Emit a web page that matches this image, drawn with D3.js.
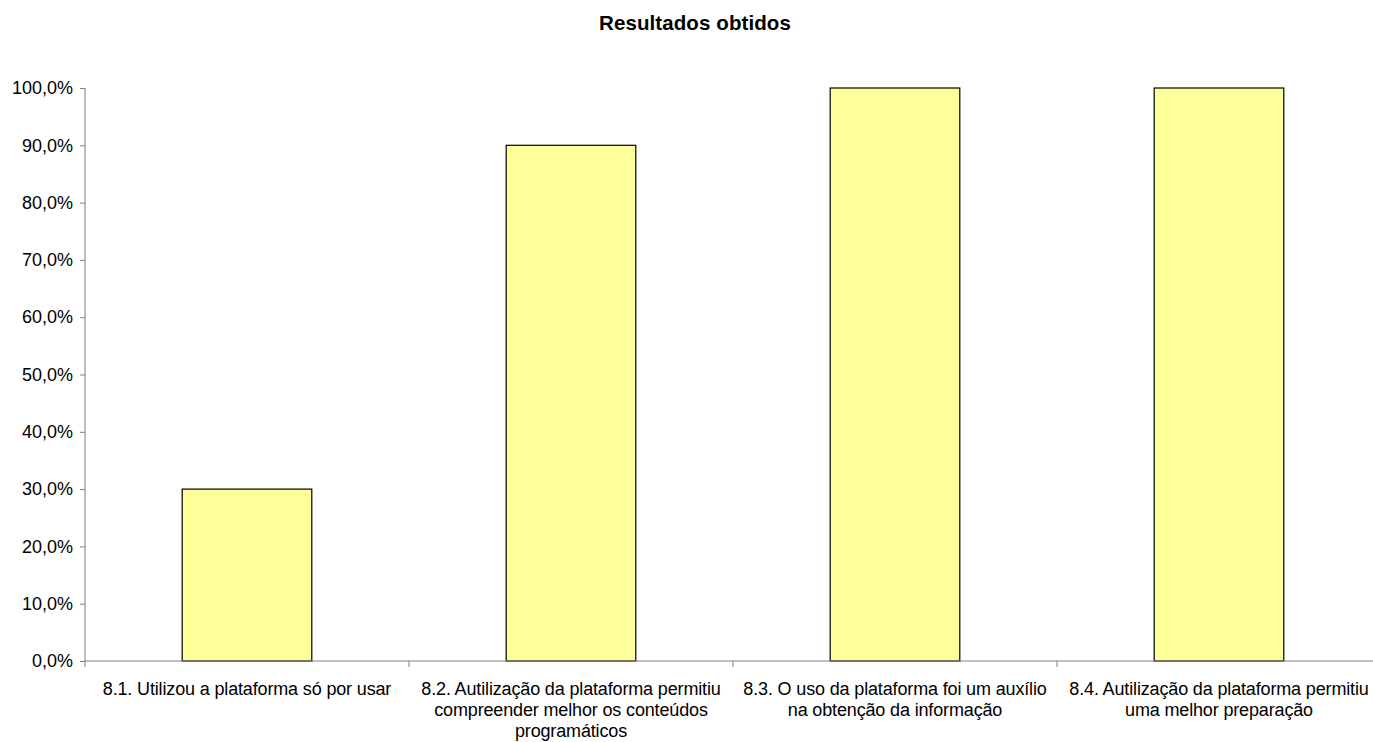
<!DOCTYPE html>
<html><head><meta charset="utf-8">
<script src="https://cdn.jsdelivr.net/npm/d3@7"></script>
<style>body{margin:0;background:#fff}text{font-family:"Liberation Sans",Arial,sans-serif}</style>
</head><body><svg id="c" width="1373" height="742"></svg>
<script>
const categories = [
  ["8.1. Utilizou a plataforma só por usar"],
  ["8.2. Autilização da plataforma permitiu","compreender melhor os conteúdos","programáticos"],
  ["8.3. O uso da plataforma foi um auxílio","na obtenção da informação"],
  ["8.4. Autilização da plataforma permitiu","uma melhor preparação"]
];
const values = [0.30, 0.90, 1.00, 1.00];
const yTicks = [0,0.1,0.2,0.3,0.4,0.5,0.6,0.7,0.8,0.9,1.0];
const title = "Resultados obtidos";

(function(){
const svg = d3.select("#c");
const pL = 85, pR = 1381, pT = 88, pB = 661;
const x = d3.scaleBand().domain(d3.range(categories.length)).range([pL, pR]).paddingInner(0).paddingOuter(0);
const y = d3.scaleLinear().domain([0,1]).range([pB, pT]);
const fmt = v => (v*100).toFixed(1).replace(".", ",") + "%";

svg.append("text").attr("x", 695).attr("y", 30).attr("text-anchor","middle")
  .attr("font-size", 20.5).attr("font-weight","bold").attr("letter-spacing", 0.1).text(title);

const bw = x.bandwidth()*0.4;
svg.selectAll("rect.bar").data(values).join("rect").attr("class","bar")
  .attr("x",(d,i)=>x(i)+x.bandwidth()/2-bw/2).attr("y",d=>y(d))
  .attr("width",bw).attr("height",d=>pB-y(d))
  .attr("fill","#FFFF99").attr("stroke","#000").attr("stroke-width",1.2);

const ya = svg.append("g").attr("transform",`translate(${pL},0)`)
  .call(d3.axisLeft(y).tickValues(yTicks).tickFormat(fmt).tickSize(5).tickPadding(7));
ya.select(".domain").attr("stroke","#808080").attr("d",`M0,${pT}V${pB}`);
ya.selectAll(".tick line").attr("stroke","#808080");
ya.selectAll("text").attr("font-size",18).attr("letter-spacing",0).attr("fill","#000").attr("font-family","Liberation Sans, Arial, sans-serif");

const xa = svg.append("g").attr("transform",`translate(0,${pB})`);
xa.append("line").attr("x1",pL).attr("x2",pR).attr("stroke","#808080");
xa.selectAll("line.t").data(d3.range(categories.length+1)).join("line").attr("class","t")
  .attr("x1",i=>pL+i*x.bandwidth()).attr("x2",i=>pL+i*x.bandwidth()).attr("y1",0).attr("y2",6).attr("stroke","#808080");
categories.forEach((lines,i)=>{
  const t = xa.append("text").attr("text-anchor","middle").attr("font-size",18).attr("letter-spacing",-0.15)
    .attr("x", x(i)+x.bandwidth()/2).attr("y", 34);
  lines.forEach((l,j)=>t.append("tspan").attr("x", x(i)+x.bandwidth()/2).attr("dy", j?21:0).text(l));
});
})();
</script></body></html>
